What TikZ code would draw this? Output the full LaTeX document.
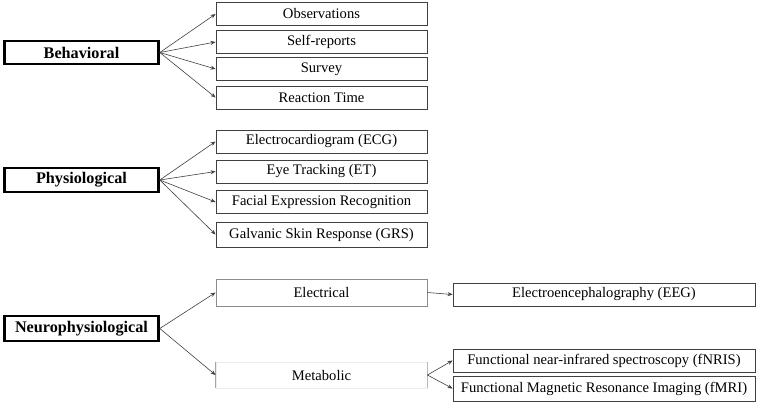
\documentclass[tikz,border=0pt]{standalone}
\usepackage{fontspec}
\setmainfont{Liberation Serif}
\usetikzlibrary{arrows.meta}
\begin{document}
\begin{tikzpicture}[x=1pt,y=-1pt,
  cat/.style={draw=black,line width=2.6pt,inner sep=0pt,minimum width=154pt,font=\fontsize{16.2}{18}\selectfont\bfseries},
  item/.style={draw=black!75,line width=0.9pt,inner sep=0pt,minimum width=211pt,minimum height=23pt,font=\fontsize{14.6}{16}\selectfont},
  wide/.style={item,minimum width=302pt},
  sub/.style={item,draw=black!45},
  conn/.style={draw=black!75,line width=0.6pt,-{Stealth[length=5pt,width=4pt]}}]
\useasboundingbox (0,0) rectangle (776,416);
% Behavioral
\node[cat,minimum height=23pt] (beh) at (81.5,52.5) {Behavioral};
\node[item] (obs) at (321.5,14) {Observations};
\node[item] (self) at (321.5,42) {Self-reports};
\node[item] (surv) at (321.5,69) {Survey};
\node[item] (react) at (321.5,97.5) {Reaction Time};
\foreach \t in {obs,self,surv,react} \draw[conn] (beh.east) -- (\t.west);
% Physiological
\node[cat,minimum height=24pt] (phy) at (81.5,180) {Physiological};
\node[item] (ecg) at (321.5,141.5) {Electrocardiogram (ECG)};
\node[item] (et) at (321.5,171.5) {Eye Tracking (ET)};
\node[item] (fer) at (321.5,202) {Facial Expression Recognition};
\node[item,minimum height=25pt] (grs) at (321.5,234.5) {Galvanic Skin Response (GRS)};
\foreach \t in {ecg,et,fer,grs} \draw[conn] (phy.east) -- (\t.west);
% Neurophysiological
\node[cat,minimum height=25pt] (neu) at (81.5,328.5) {Neurophysiological};
\node[sub,minimum height=27pt] (elec) at (321.5,292.5) {Electrical};
\node[item,draw=gray!15,minimum height=26pt] (meta) at (321.5,375) {Metabolic};
\draw[gray!70,line width=1.2pt] (meta.north west) -- (meta.south west);
\draw[gray!55,line width=0.9pt] (meta.north east) -- (meta.south east);
\draw[conn] (neu.east) -- (elec.west);
\draw[conn] (neu.east) -- (meta.west);
\node[wide] (eeg) at (604,294.5) {Electroencephalography (EEG)};
\node[wide] (fnris) at (604,360.5) {Functional near-infrared spectroscopy (fNRIS)};
\node[wide,minimum height=25pt] (fmri) at (604,388.5) {Functional Magnetic Resonance Imaging (fMRI)};
\draw[conn] (elec.east) -- (eeg.west);
\draw[conn] (meta.east) -- (fnris.west);
\draw[conn] (meta.east) -- (fmri.west);
\end{tikzpicture}
\end{document}
